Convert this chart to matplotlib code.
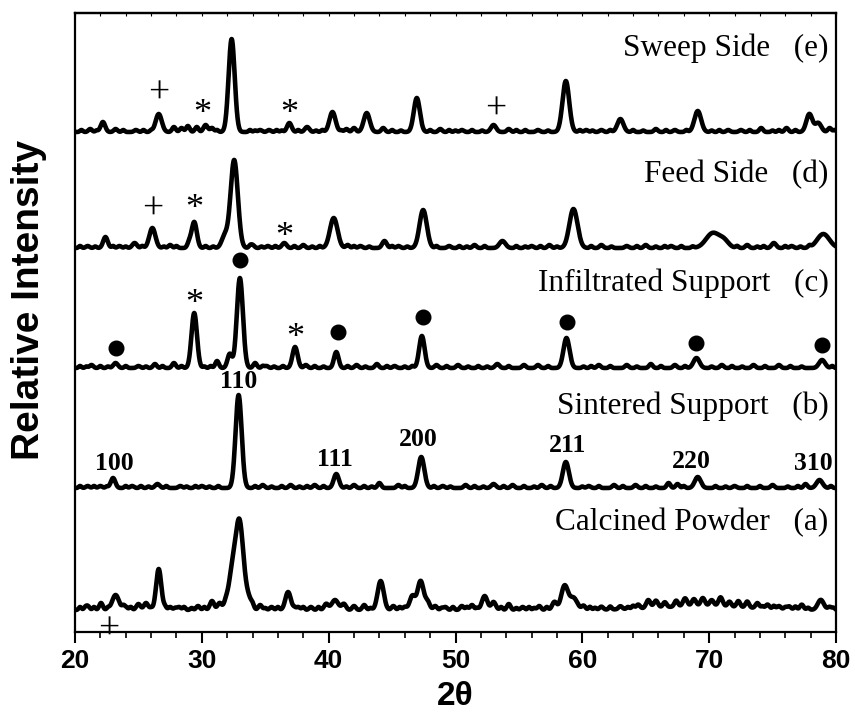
import numpy as np
import matplotlib
matplotlib.use("Agg")
import matplotlib.pyplot as plt

# 2theta range of the scans
theta_min, theta_max = 20, 80

# vertical offset of each pattern (arbitrary units)
offsets = {'a': 22, 'b': 144, 'c': 264, 'd': 384, 'e': 500}

# peaks: (2theta, height, width)
peaks_a = [(21.0, 4, .12), (22.05, 7, .12), (23.2, 15, .22), (24.0, 3, .12), (25.0, 6, .14),
           (25.6, 7, .14), (26.6, 41, .17), (27.5, 3, .12), (28.2, 3, .12), (29.7, 4, .12),
           (30.8, 9, .14), (31.4, 7, .14), (31.9, 8, .14), (32.35, 30, .2), (32.95, 90, .27),
           (33.7, 10, .2), (34.6, 5, .12), (35.5, 3, .12), (36.8, 18, .18), (37.6, 3, .12),
           (38.6, 3, .12), (39.8, 6, .14), (40.5, 10, .22), (41.2, 6, .14), (42.0, 4, .12),
           (42.8, 5, .12), (44.1, 29, .2), (45.1, 4, .12), (46.0, 3, .12), (46.6, 14, .18),
           (47.25, 29, .2), (47.8, 8, .15), (48.4, 4, .12), (49.2, 3, .12), (50.5, 4, .12),
           (51.3, 5, .12), (52.3, 14, .18), (53.0, 8, .15), (54.2, 6, .12), (55.3, 3, .12),
           (56.6, 4, .12), (57.8, 8, .15), (58.6, 24, .22), (59.3, 12, .25), (60.1, 4, .12),
           (61.5, 3, .12), (63.0, 3, .12), (64.4, 4, .12), (65.2, 8, .14), (65.8, 7, .14),
           (66.5, 5, .12), (67.4, 6, .12), (68.1, 8, .14), (68.8, 7, .14), (69.5, 8, .14),
           (70.2, 6, .14), (70.9, 9, .14), (71.6, 5, .12), (72.3, 6, .12), (73.0, 6, .12),
           (73.8, 5, .12), (74.6, 4, .12), (75.5, 3, .12), (76.3, 3, .12), (77.3, 5, .12),
           (78.8, 10, .2), (79.5, 3, .12), (69.5, 4, 3.0)]
peaks_b = [(21.0, 2, .12), (22.0, 2, .12), (23.0, 10, .15), (24.5, 2, .12), (26.5, 4, .15),
           (28.3, 2, .12), (30.0, 2, .12), (32.9, 93, .2), (34.8, 3, .12), (37.0, 3, .12),
           (38.9, 3, .12), (40.6, 14, .17), (42.0, 3, .12), (44.0, 5, .12), (45.5, 3, .12),
           (47.3, 31, .2), (49.0, 2, .12), (50.8, 3, .12), (53.0, 4, .15), (54.5, 3, .12),
           (56.8, 3, .12), (58.7, 26, .2), (60.5, 2, .12), (62.5, 3, .12), (64.2, 3, .12),
           (66.8, 5, .12), (67.5, 4, .12), (69.1, 11, .2), (72.0, 2, .12), (75.0, 3, .12),
           (77.6, 4, .12), (78.7, 8, .2)]
peaks_c = [(21.3, 3, .12), (23.2, 5, .15), (25.0, 2, .12), (26.3, 4, .12), (27.8, 5, .12),
           (29.4, 55, .18), (31.2, 7, .12), (32.2, 14, .15), (33.0, 90, .2), (34.2, 5, .12),
           (35.1, 2, .12), (37.35, 21, .17), (38.2, 3, .12), (40.6, 16, .15), (42.2, 3, .12),
           (43.8, 4, .12), (45.2, 2, .12), (47.35, 32, .18), (48.5, 3, .12), (50.2, 3, .12),
           (53.3, 4, .14), (55.4, 3, .12), (56.5, 3, .12), (58.75, 30, .2), (61.3, 3, .12),
           (63.5, 3, .12), (65.4, 4, .12), (67.3, 3, .12), (69.0, 10, .2), (71.0, 3, .12),
           (73.5, 3, .12), (75.5, 3, .12), (78.9, 8, .2)]
peaks_d = [(21.0, 2, .12), (22.4, 11, .15), (23.5, 2, .12), (24.7, 5, .15), (26.1, 20, .2),
           (27.5, 3, .12), (29.0, 5, .12), (29.4, 26, .17), (31.8, 12, .2), (32.55, 88, .24),
           (34.0, 3, .12), (35.2, 2, .12), (36.5, 5, .15), (38.0, 3, .12), (40.4, 30, .25),
           (41.5, 3, .12), (42.5, 2, .12), (44.4, 7, .15), (45.5, 2, .12), (47.45, 38, .24),
           (49.5, 2, .12), (51.5, 3, .12), (53.7, 7, .2), (56.0, 2, .12), (57.4, 3, .12),
           (59.3, 39, .27), (61.5, 3, .12), (63.5, 2, .12), (65.0, 3, .12), (67.0, 2, .12),
           (70.3, 15, .45), (71.2, 6, .3), (73.0, 3, .12), (75.1, 5, .15), (76.5, 2, .12),
           (79.0, 14, .4)]
peaks_e = [(21.2, 3, .12), (22.2, 10, .15), (23.2, 3, .12), (24.8, 2, .12), (26.6, 18, .2),
           (27.8, 5, .12), (28.4, 4, .12), (28.9, 6, .12), (29.6, 5, .12), (30.3, 7, .14),
           (30.8, 4, .12), (32.35, 93, .2), (34.6, 2, .12), (35.3, 2, .12), (36.9, 9, .15),
           (38.3, 5, .15), (40.3, 20, .2), (41.4, 3, .12), (42.0, 4, .12), (43.0, 19, .2),
           (44.3, 4, .12), (46.95, 34, .2), (48.8, 3, .12), (50.5, 2, .12), (53.0, 7, .17),
           (54.2, 3, .12), (56.5, 2, .12), (58.7, 51, .22), (60.3, 2, .12), (61.5, 2, .12),
           (63.0, 13, .2), (65.8, 3, .12), (67.3, 2, .12), (69.1, 21, .22), (71.5, 2, .12),
           (72.5, 2, .12), (74.1, 4, .12), (76.1, 4, .12), (77.9, 18, .2), (78.6, 9, .2),
           (79.5, 4, .12)]

# small wiggles on the baselines: (2theta, height)
noise_a = [(20.4, 3), (20.8, 2), (21.5, 3), (22.6, 2), (23.8, 3), (24.4, 3), (26.0, 2),
           (27.1, 3), (27.9, 2), (28.6, 3), (29.2, 2), (30.2, 3), (34.0, 3), (35.0, 2),
           (36.0, 3), (37.3, 2), (38.0, 3), (39.2, 3), (43.3, 2), (45.6, 3), (48.9, 2),
           (49.8, 3), (50.9, 3), (51.7, 2), (53.6, 3), (54.8, 2), (55.8, 3), (56.2, 2),
           (57.2, 3), (60.6, 3), (61.0, 2), (62.2, 3), (63.6, 2), (64.0, 3), (74.2, 2),
           (75.1, 3), (76.0, 2), (76.8, 3), (77.8, 2), (79.8, 2)]
noise_b = [(20.4, 2), (21.5, 2), (22.5, 1.5), (24.0, 2), (25.2, 2), (25.8, 1.5), (27.2, 2),
           (28.8, 1.5), (29.5, 2), (30.6, 1.5), (31.3, 2), (34.2, 2), (35.5, 1.5), (36.3, 2),
           (37.7, 1.5), (38.3, 2), (39.6, 2), (41.4, 1.5), (42.8, 2), (43.4, 1.5), (46.0, 2),
           (48.3, 2), (49.6, 1.5), (51.5, 2), (52.2, 1.5), (53.8, 2), (55.4, 2), (56.2, 1.5),
           (57.5, 2), (60.0, 1.5), (61.3, 2), (63.2, 2), (65.0, 2), (65.8, 1.5), (68.0, 2),
           (70.5, 2), (71.3, 1.5), (73.0, 2), (74.0, 2), (76.2, 1.5), (77.0, 2), (79.6, 2)]
noise_c = [(20.4, 2), (20.9, 1.5), (22.0, 2), (22.6, 1.5), (24.0, 2), (25.6, 1.5), (26.9, 2),
           (28.4, 2), (30.2, 1.5), (30.7, 2), (34.8, 2), (35.7, 1.5), (36.4, 2), (38.9, 2),
           (39.6, 1.5), (41.5, 2), (42.9, 1.5), (44.6, 2), (46.0, 1.5), (46.6, 2), (49.3, 2),
           (51.0, 1.5), (51.8, 2), (52.5, 1.5), (54.2, 2), (57.3, 2), (60.1, 1.5), (60.7, 2),
           (62.2, 2), (64.3, 1.5), (66.2, 2), (68.1, 2), (70.2, 1.5), (71.8, 2), (72.6, 1.5),
           (74.4, 2), (76.4, 2), (77.3, 1.5), (79.7, 2)]
noise_d = [(20.4, 2), (21.6, 1.5), (23.0, 2), (24.0, 1.5), (25.3, 2), (27.0, 1.5), (28.0, 2),
           (30.3, 2), (30.9, 1.5), (33.8, 2), (34.7, 1.5), (35.8, 2), (37.3, 2), (38.7, 1.5),
           (39.3, 2), (42.0, 2), (43.2, 1.5), (45.0, 2), (46.2, 1.5), (48.5, 2), (50.3, 2),
           (50.9, 1.5), (52.3, 2), (54.8, 2), (55.5, 1.5), (56.7, 2), (58.0, 1.5), (60.7, 2),
           (62.3, 1.5), (64.3, 2), (65.8, 1.5), (66.5, 2), (67.8, 2), (68.7, 1.5), (72.2, 2),
           (73.8, 1.5), (74.3, 2), (76.0, 2), (77.2, 1.5), (77.9, 2)]
noise_e = [(20.5, 2), (21.7, 1.5), (23.8, 2), (25.4, 2), (26.0, 1.5), (31.2, 2), (33.8, 2),
           (34.2, 1.5), (35.9, 2), (36.3, 1.5), (37.6, 2), (39.0, 1.5), (39.5, 2), (41.0, 1.5),
           (45.0, 2), (45.7, 1.5), (48.0, 2), (49.5, 2), (50.0, 1.5), (51.3, 2), (52.1, 1.5),
           (54.8, 2), (55.5, 2), (57.3, 1.5), (59.8, 2), (60.8, 1.5), (62.2, 2), (64.0, 2),
           (64.8, 1.5), (66.6, 2), (68.2, 2), (70.2, 1.5), (70.8, 2), (73.2, 2), (75.0, 1.5),
           (75.5, 2), (76.8, 2), (79.9, 2)]

labels = {'e': 'Sweep Side   (e)', 'd': 'Feed Side   (d)', 'c': 'Infiltrated Support   (c)',
          'b': 'Sintered Support   (b)', 'a': 'Calcined Powder   (a)'}
label_y = {'e': 584, 'd': 457, 'c': 349, 'b': 226, 'a': 109}

# Miller indices on the sintered support pattern
hkl = ['100', '110', '111', '200', '211', '220', '310']
hkl_x = [23.1, 32.9, 40.5, 47.1, 58.8, 68.6, 78.2]
hkl_y = [169, 250, 173, 192, 187, 170, 169]

# phase markers (2theta, height)
dots_x = [23.2, 33.0, 40.7, 47.4, 58.8, 69.0, 78.9]
dots_y = [284, 372, 300, 315, 310, 289, 287]
stars = [(30.0, 524), (36.9, 524), (29.4, 429), (36.5, 401), (29.4, 334), (37.4, 300)]
pluses = [(26.6, 538), (53.2, 522), (26.1, 422), (22.7, 2)]


def pattern(x, peaks, noise, base):
    # instrumental broadening of 1.2 on the read widths
    y = np.full_like(x, float(base))
    for pos, h, w in peaks:
        y += h * np.exp(-0.5 * ((x - pos) / (1.2 * w)) ** 2)
    for pos, h in noise:
        y += h * np.exp(-0.5 * ((x - pos) / 0.11) ** 2)
    return y


x = np.linspace(theta_min, theta_max, 3001)

fig = plt.figure(figsize=(8.55, 7.23), dpi=100)
ax = fig.add_axes([75 / 855, 1 - 632 / 723, 761 / 855, 619 / 723])

all_peaks = [peaks_a, peaks_b, peaks_c, peaks_d, peaks_e]
all_noise = [noise_a, noise_b, noise_c, noise_d, noise_e]
for key, pk, nz in zip('abcde', all_peaks, all_noise):
    ax.plot(x, pattern(x, pk, nz, offsets[key]), color='black', lw=3.3,
            solid_joinstyle='round')
    ax.text(79.4, label_y[key], labels[key], ha='right', va='center',
            fontsize=22.5, family='Liberation Serif')

for t, hx, hy in zip(hkl, hkl_x, hkl_y):
    ax.text(hx, hy, t, ha='center', va='center', fontsize=18.5,
            family='Liberation Serif', fontweight='bold')

ax.plot(dots_x, dots_y, 'o', color='black', ms=10.5)
for sx, sy in stars:
    ax.text(sx, sy - 15, '*', ha='center', va='baseline', fontsize=26, family='Liberation Serif')
for px, py in pluses:
    ax.text(px, py - 9, '+', ha='center', va='baseline', fontsize=27,
            family='Liberation Serif', clip_on=False)

ax.set_xlim(theta_min, theta_max)
ax.set_ylim(0, 619)
ax.set_xticks(range(20, 81, 10))
ax.set_xticks(range(20, 81, 2), minor=True)
ax.set_yticks([])
ax.tick_params(axis='x', which='major', direction='out', length=8, width=1.5,
               labelsize=19, pad=4)
ax.tick_params(axis='x', which='minor', direction='out', length=4.5, width=1.2)
for lab in ax.get_xticklabels():
    lab.set_fontweight('bold')
    lab.set_family('Liberation Sans')

top = ax.secondary_xaxis('top')
top.set_xticks(range(20, 81, 2))
top.tick_params(direction='in', length=2.5, width=0.8, labeltop=False)

for sp in ax.spines.values():
    sp.set_linewidth(1.6)
top.spines['top'].set_linewidth(1.6)

ax.set_xlabel('2θ', fontsize=24, fontweight='bold', family='Liberation Sans', labelpad=6)
fig.text(29 / 855, 1 - 300 / 723, 'Relative Intensity', rotation=90, ha='center',
         va='center', fontsize=28, fontweight='bold', family='Liberation Sans')

fig.savefig('out.png', dpi=100)
